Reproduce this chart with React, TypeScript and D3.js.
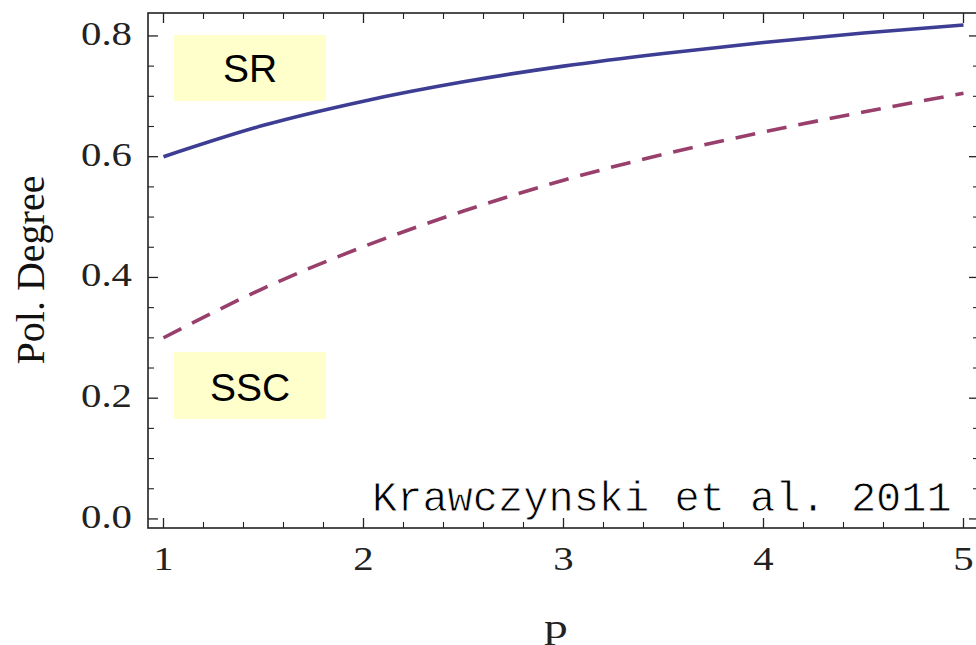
import React from "react";
import * as d3 from "d3";

const pValues = [1, 1.5, 2, 2.5, 3, 3.5, 4, 4.5, 5];
const srValues = [0.6, 0.652, 0.692, 0.724, 0.75, 0.771, 0.789, 0.805, 0.818];
const sscValues = [0.3, 0.382, 0.451, 0.51, 0.561, 0.604, 0.641, 0.674, 0.705];
const xMajorTicks = [1, 2, 3, 4, 5];
const yMajorTicks = [0.0, 0.2, 0.4, 0.6, 0.8];
const xLabel = "p";
const yLabel = "Pol. Degree";
const srLabel = "SR";
const sscLabel = "SSC";
const citation = "Krawczynski et al. 2011";

const W = 976;
const H = 645;
const frame = { left: 148, right: 979, top: 13, bottom: 528 };

export default function App() {
  const x = d3.scaleLinear().domain([0.9225, 5.0775]).range([frame.left, frame.right]);
  const y = d3.scaleLinear().domain([-0.015, 0.838]).range([frame.bottom, frame.top]);

  const line = d3
    .line<number>()
    .x((_, i) => x(pValues[i]))
    .curve(d3.curveMonotoneX);

  const srPath = line.y((d) => y(d))(srValues) || "";
  const sscPath = line.y((d) => y(d))(sscValues) || "";

  const xMinor = d3.range(1, 5.0001, 0.2).filter((v) => !xMajorTicks.some((m) => Math.abs(m - v) < 1e-6));
  const yMinor = d3.range(0, 0.8001, 0.05).filter((v) => !yMajorTicks.some((m) => Math.abs(m - v) < 1e-6));

  const MAJ = 10;
  const MIN = 6;
  const tickColor = "#222";
  const serif = "'Liberation Serif', 'Times New Roman', serif";

  return (
    <svg
      width={W}
      height={H}
      style={{ position: "absolute", left: 0, top: 0, background: "#fff" }}
      xmlns="http://www.w3.org/2000/svg"
    >
      <rect x={0} y={0} width={W} height={H} fill="#fff" />
      {/* annotation boxes */}
      <rect x={174} y={35} width={152} height={66} fill="#ffffcc" />
      <text x={250} y={82} textAnchor="middle" fontFamily="'Liberation Sans', Arial, sans-serif" fontSize={39} fill="#000">
        {srLabel}
      </text>
      <rect x={174} y={352} width={152} height={67} fill="#ffffcc" />
      <text x={250} y={401} textAnchor="middle" fontFamily="'Liberation Sans', Arial, sans-serif" fontSize={39} fill="#000">
        {sscLabel}
      </text>

      {/* frame */}
      <rect
        x={frame.left}
        y={frame.top}
        width={frame.right - frame.left}
        height={frame.bottom - frame.top}
        fill="none"
        stroke={tickColor}
        strokeWidth={1.6}
      />

      {/* x ticks bottom & top */}
      {xMajorTicks.map((v) => (
        <g key={"xm" + v}>
          <line x1={x(v)} x2={x(v)} y1={frame.bottom} y2={frame.bottom - MAJ} stroke={tickColor} strokeWidth={1.3} />
          <line x1={x(v)} x2={x(v)} y1={frame.top} y2={frame.top + MAJ} stroke={tickColor} strokeWidth={1.3} />
          <text
            transform={`translate(${x(v)},569.5) scale(1.2,1)`}
            textAnchor="middle"
            fontFamily={serif}
            fontSize={34}
            fill="#222"
          >
            {String(v)}
          </text>
        </g>
      ))}
      {xMinor.map((v) => (
        <g key={"xn" + v}>
          <line x1={x(v)} x2={x(v)} y1={frame.bottom} y2={frame.bottom - MIN} stroke={tickColor} strokeWidth={1.1} />
          <line x1={x(v)} x2={x(v)} y1={frame.top} y2={frame.top + MIN} stroke={tickColor} strokeWidth={1.1} />
        </g>
      ))}

      {/* y ticks left & right */}
      {yMajorTicks.map((v) => (
        <g key={"ym" + v}>
          <line x1={frame.left} x2={frame.left + MAJ} y1={y(v)} y2={y(v)} stroke={tickColor} strokeWidth={1.3} />
          <line x1={frame.right} x2={frame.right - MAJ} y1={y(v)} y2={y(v)} stroke={tickColor} strokeWidth={1.3} />
          <text
            transform={`translate(132,${y(v) + 9}) scale(1.2,1)`}
            textAnchor="end"
            fontFamily={serif}
            fontSize={34}
            fill="#222"
          >
            {v.toFixed(1)}
          </text>
        </g>
      ))}
      {yMinor.map((v) => (
        <g key={"yn" + v}>
          <line x1={frame.left} x2={frame.left + MIN} y1={y(v)} y2={y(v)} stroke={tickColor} strokeWidth={1.1} />
          <line x1={frame.right} x2={frame.right - MIN} y1={y(v)} y2={y(v)} stroke={tickColor} strokeWidth={1.1} />
        </g>
      ))}

      {/* curves */}
      <path d={srPath} fill="none" stroke="#3d3d94" strokeWidth={3.6} />
      <path d={sscPath} fill="none" stroke="#993f6c" strokeWidth={3.6} strokeDasharray="20 12" />

      {/* axis labels */}
      <text
        transform={`translate(556,638) scale(1.4,1)`}
        textAnchor="middle"
        fontFamily={serif}
        fontSize={34}
        fill="#222"
      >
        {xLabel}
      </text>
      <text
        transform={`translate(44,270) rotate(-90)`}
        textAnchor="middle"
        fontFamily={serif}
        fontSize={40}
        fill="#111"
      >
        {yLabel}
      </text>

      {/* citation */}
      <text
        x={372}
        y={511}
        fontFamily="'Courier New', 'Liberation Mono', monospace"
        fontSize={42}
        fill="#000"
        stroke="#fff"
        strokeWidth={0.8}
      >
        {citation}
      </text>
    </svg>
  );
}
